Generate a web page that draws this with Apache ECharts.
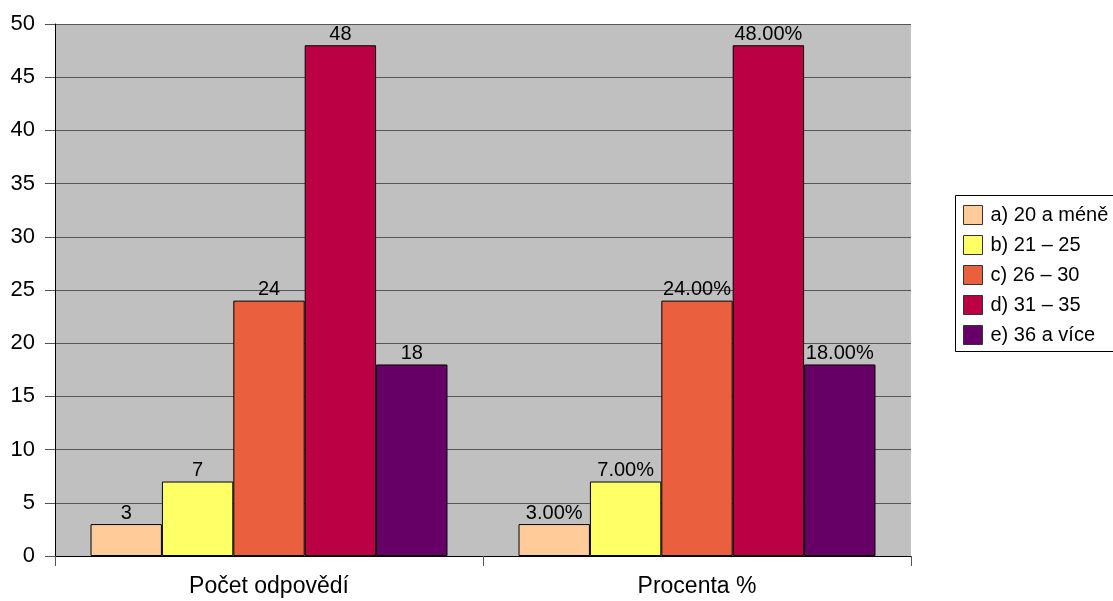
<!DOCTYPE html>
<html><head><meta charset="utf-8">
<script src="https://cdn.jsdelivr.net/npm/echarts@6/dist/echarts.min.js"></script>
<style>html,body{margin:0;padding:0;background:#fff}#c{width:1113px;height:601px}</style>
</head><body><div id="c"></div>
<script>
const categories = ['Počet odpovědí', 'Procenta %'];
const seriesNames = ['a) 20 a méně', 'b) 21 – 25', 'c) 26 – 30', 'd) 31 – 35', 'e) 36 a více'];
const countValues = [3, 7, 24, 48, 18];
const percentValues = [3, 7, 24, 48, 18];
const colors = ['#FFCC99', '#FFFF66', '#EA603E', '#BB0044', '#660066'];
const yTicks = { min: 0, max: 50, interval: 5 };

const FONT = 'Liberation Sans, Arial, sans-serif';
const chart = echarts.init(document.getElementById('c'));
chart.setOption({
  animation: false,
  textStyle: { fontFamily: FONT },
  grid: { left: 55, top: 24, right: 202, bottom: 45, show: true, backgroundColor: '#C0C0C0', borderWidth: 0 },
  graphic: [{
    type: 'rect', z: -1,
    shape: { x: 955.5, y: 195.5, width: 220, height: 156 },
    style: { fill: '#fff', stroke: '#000', lineWidth: 1 }
  }],
  legend: {
    orient: 'vertical', left: 955, top: 195,
    padding: [10, 5, 8, 8],
    itemWidth: 19, itemHeight: 19, itemGap: 10,
    borderWidth: 0,
    textStyle: { fontSize: 20, color: '#000', fontFamily: FONT, padding: [0, 0, 0, 3] },
    data: seriesNames.map(n => ({ name: n, icon: 'rect', itemStyle: { borderColor: '#333', borderWidth: 1 } }))
  },
  xAxis: {
    type: 'category', data: categories,
    axisLine: { lineStyle: { color: '#000', width: 1 } },
    axisTick: { show: true, length: 10, lineStyle: { color: '#555' } },
    axisLabel: { fontSize: 23, color: '#000', margin: 19, fontFamily: FONT },
    splitLine: { show: false }
  },
  yAxis: {
    type: 'value', min: yTicks.min, max: yTicks.max, interval: yTicks.interval,
    axisLine: { show: true, lineStyle: { color: '#000', width: 1 } },
    axisTick: { show: true, length: 10, lineStyle: { color: '#555' } },
    axisLabel: { fontSize: 22, color: '#000', margin: 20, fontFamily: FONT },
    splitLine: { show: true, lineStyle: { color: '#555', width: 1 } }
  },
  series: seriesNames.map((name, i) => ({
    name, type: 'bar',
    data: [countValues[i], percentValues[i]],
    barGap: '0%', barCategoryGap: '16.6%',
    itemStyle: { color: colors[i], borderColor: '#000', borderWidth: 1 },
    label: {
      show: true, position: 'top', distance: 1, fontSize: 20, color: '#000', fontFamily: FONT,
      formatter: p => p.dataIndex === 1 ? p.value.toFixed(2) + '%' : String(p.value)
    }
  }))
});
</script></body></html>
